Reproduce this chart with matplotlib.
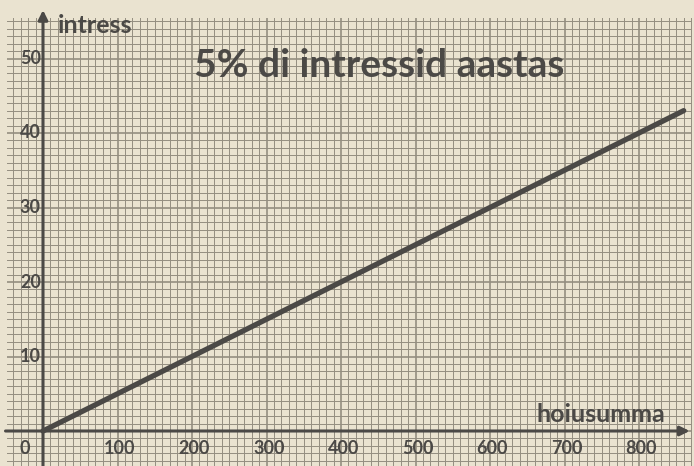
import numpy as np
import matplotlib
matplotlib.use('Agg')
import matplotlib.pyplot as plt

# data
deposit = [0, 860]          # hoiusumma
interest = [0, 43]          # intress (5%)
x_ticks = [0, 100, 200, 300, 400, 500, 600, 700, 800]
x_tick_labels = ['0', '100', '200', '300', '400', '500', '600', '700', '800']
y_ticks = [10, 20, 30, 40, 50]
y_tick_labels = ['10', '20', '30', '40', '50']
title = '5% di intressid aastas'
x_label = 'hoiusumma'
y_label = 'intress'

paper = '#eae3d0'
grid_c = '#948e80'
ink = '#4b4946'
font = 'Lato'

W, H = 694, 466
fig = plt.figure(figsize=(W / 100, H / 100), dpi=100, facecolor=paper)
# graph paper region in pixels: x 7..692, y 18..466
ax = fig.add_axes([7 / W, 0, (692 - 7) / W, (466 - 18) / H])
ax.set_facecolor(paper)
xmin, xmax = (7 - 43) / 0.745, (692 - 43) / 0.745
ymin, ymax = (431 - 466) / 7.45, (431 - 18) / 7.45
ax.set_xlim(xmin, xmax)
ax.set_ylim(ymin, ymax)
for s in ax.spines.values():
    s.set_visible(False)
ax.set_xticks([])
ax.set_yticks([])

# graph paper grid
for gx in np.arange(-40, xmax, 10):
    major = abs(gx % 100) < 1e-6
    ax.axvline(gx, color=grid_c, lw=1.2 if major else 0.7, zorder=1)
for gy in np.arange(-4, ymax, 1):
    major = abs(gy % 10) < 1e-6
    ax.axhline(gy, color=grid_c, lw=1.2 if major else 0.7, zorder=1)

# axes with arrows
ax.annotate('', xy=(0, 56.5), xytext=(0, ymin), annotation_clip=False,
            arrowprops=dict(arrowstyle='-|>', color=ink, lw=2.2,
                            mutation_scale=14, shrinkA=0, shrinkB=0), zorder=3)
ax.annotate('', xy=(868, 0), xytext=(xmin - 2, 0), annotation_clip=False,
            arrowprops=dict(arrowstyle='-|>', color=ink, lw=2.2,
                            mutation_scale=14, shrinkA=0, shrinkB=0), zorder=3)

# the interest line
ax.plot(deposit, interest, color=ink, lw=3.8, solid_capstyle='round', zorder=4)

# tick labels
for v, lab in zip(x_ticks, x_tick_labels):
    xo = -24 if v == 0 else 3
    ax.text(v + xo, -2.3, lab, ha='center', va='center', color=ink,
            fontsize=13, family=font, fontweight='bold', zorder=5)
for v, lab in zip(y_ticks, y_tick_labels):
    ax.text(-3, v, lab, ha='right', va='center', color=ink,
            fontsize=13, family=font, fontweight='bold', zorder=5)

# labels and title
ax.text(20, 53.4, y_label, ha='left', va='baseline', color=ink, fontsize=18,
        family=font, fontweight='bold', clip_on=False, zorder=5)
ax.text(663, 1.2, x_label, ha='left', va='baseline', color=ink, fontsize=18,
        family=font, fontweight='bold', zorder=5)
ax.text(451, 47.5, title, ha='center', va='baseline', color=ink, fontsize=28,
        family=font, fontweight='bold', zorder=5)

fig.savefig('out.png', dpi=100, facecolor=paper)
